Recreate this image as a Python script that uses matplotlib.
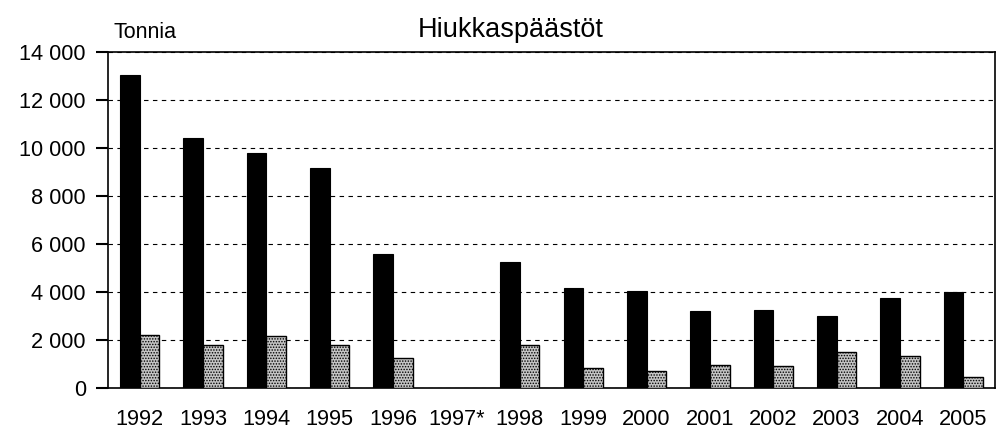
import numpy as np
import matplotlib.pyplot as plt
from matplotlib.ticker import FuncFormatter

plt.rcParams['font.family'] = ['Liberation Sans', 'DejaVu Sans']

years = ['1992', '1993', '1994', '1995', '1996', '1997*', '1998',
         '1999', '2000', '2001', '2002', '2003', '2004', '2005']
series_a = [13050, 10400, 9800, 9150, 5600, np.nan, 5250,
            4150, 4050, 3200, 3250, 3000, 3750, 4000]
series_b = [2200, 1800, 2150, 1800, 1250, np.nan, 1800,
            850, 700, 950, 900, 1500, 1350, 470]

fig = plt.figure(figsize=(9.96, 4.28), dpi=100)
ax = fig.add_axes([108 / 996, 40 / 428, 887 / 996, 336 / 428])

x = np.arange(len(years))
w = 0.31
ax.bar(x - w / 2, series_a, w, color='black', edgecolor='black', linewidth=0.8, zorder=3)
plt.rcParams['hatch.linewidth'] = 0.7
ax.bar(x + w / 2, series_b, w, color='#c4c4c4', edgecolor='black', linewidth=1.0,
       hatch='......', zorder=3)

ax.set_xlim(-0.5, len(years) - 0.5)
ax.set_ylim(0, 14000)
ax.set_yticks(range(0, 14001, 2000))
ax.yaxis.set_major_formatter(FuncFormatter(lambda v, p: f'{int(v):,}'.replace(',', ' ')))
ax.set_xticks(x)
ax.set_xticklabels(years)

ax.yaxis.grid(True, linestyle=(0, (4, 4)), color='black', linewidth=0.8, zorder=0)
for s in ax.spines.values():
    s.set_linewidth(1.2)
ax.tick_params(axis='y', length=9, width=1.5, labelsize=15.7, pad=7)
ax.tick_params(axis='x', length=0, labelsize=15.7, pad=15)

fig.text(0.513, 0.93, 'Hiukkaspäästöt', ha='center', va='center', fontsize=19.5)
fig.text(113 / 996, 0.925, 'Tonnia', ha='left', va='center', fontsize=15.5)

fig.savefig('out.png', dpi=100)
